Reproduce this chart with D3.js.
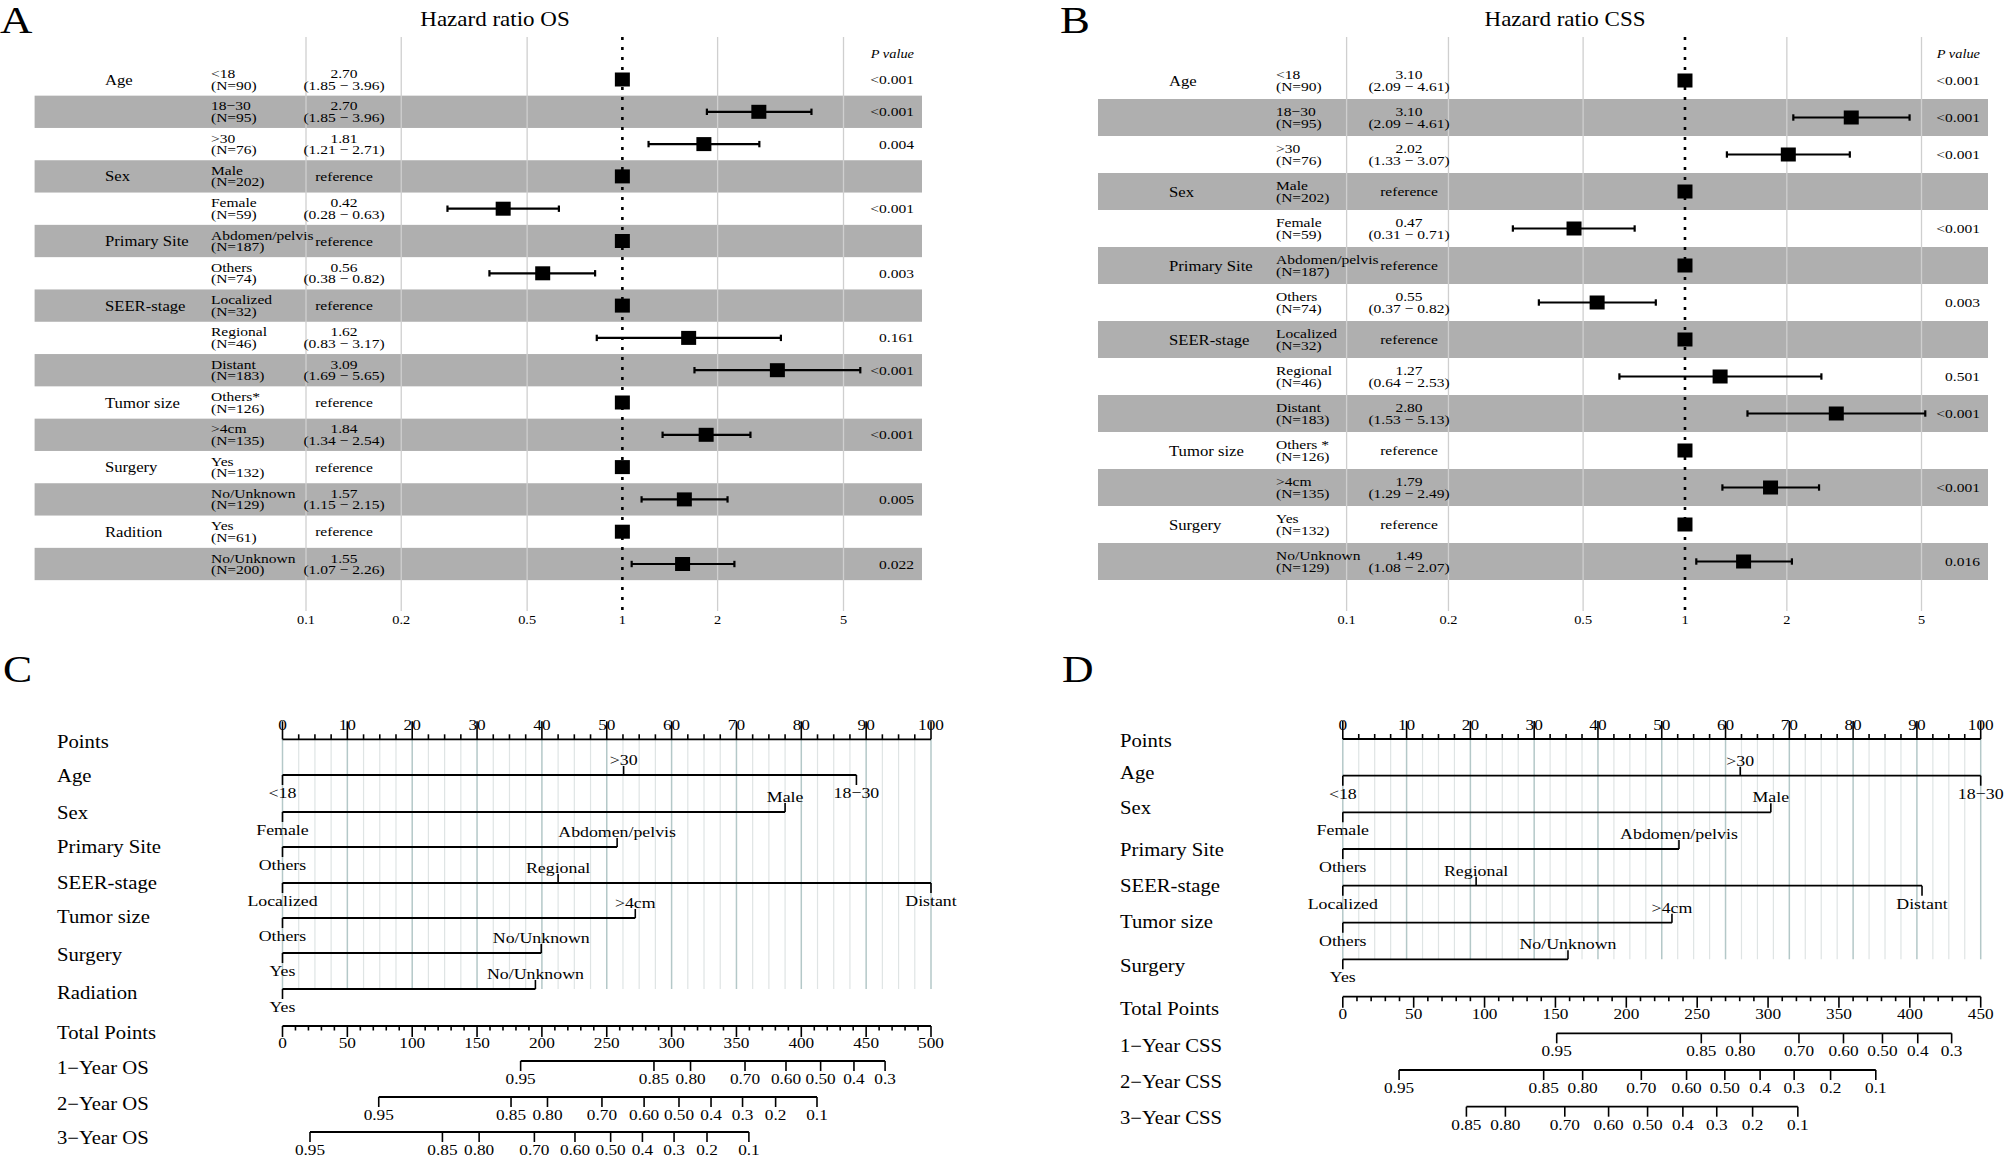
<!DOCTYPE html>
<html lang="en">
<head>
<meta charset="UTF-8">
<title>Hazard ratios and nomograms</title>
<style>
    body { margin: 0; background: #fff; }
    svg { display: block; font-family: "Liberation Serif", "Times New Roman", serif; }
</style>
</head>
<body>
<div id="chart"></div>
<script src="https://d3js.org/d3.v7.min.js"></script>
<script>
// ---------- Forest plot data: overall survival ----------
const osVariable = ["Age", "", "", "Sex", "", "Primary Site", "", "SEER-stage", "", "", "Tumor size", "", "Surgery", "", "Radition", ""];
const osLevel = ["<18", "18−30", ">30", "Male", "Female", "Abdomen/pelvis", "Others", "Localized", "Regional", "Distant", "Others*", ">4cm", "Yes", "No/Unknown", "Yes", "No/Unknown"];
const osN = [90, 95, 76, 202, 59, 187, 74, 32, 46, 183, 126, 135, 132, 129, 61, 200];
const osHR = [2.70, 2.70, 1.81, null, 0.42, null, 0.56, null, 1.62, 3.09, null, 1.84, null, 1.57, null, 1.55];
const osLow = [1.85, 1.85, 1.21, null, 0.28, null, 0.38, null, 0.83, 1.69, null, 1.34, null, 1.15, null, 1.07];
const osHigh = [3.96, 3.96, 2.71, null, 0.63, null, 0.82, null, 3.17, 5.65, null, 2.54, null, 2.15, null, 2.26];
// where the square is plotted (first row is drawn on the reference line)
const osBox = [1, 2.70, 1.81, 1, 0.42, 1, 0.56, 1, 1.62, 3.09, 1, 1.84, 1, 1.57, 1, 1.55];
const osP = ["<0.001", "<0.001", "0.004", "", "<0.001", "", "0.003", "", "0.161", "<0.001", "", "<0.001", "", "0.005", "", "0.022"];

// ---------- Forest plot data: cancer specific survival ----------
const cssVariable = ["Age", "", "", "Sex", "", "Primary Site", "", "SEER-stage", "", "", "Tumor size", "", "Surgery", ""];
const cssLevel = ["<18", "18−30", ">30", "Male", "Female", "Abdomen/pelvis", "Others", "Localized", "Regional", "Distant", "Others *", ">4cm", "Yes", "No/Unknown"];
const cssN = [90, 95, 76, 202, 59, 187, 74, 32, 46, 183, 126, 135, 132, 129];
const cssHR = [3.10, 3.10, 2.02, null, 0.47, null, 0.55, null, 1.27, 2.80, null, 1.79, null, 1.49];
const cssLow = [2.09, 2.09, 1.33, null, 0.31, null, 0.37, null, 0.64, 1.53, null, 1.29, null, 1.08];
const cssHigh = [4.61, 4.61, 3.07, null, 0.71, null, 0.82, null, 2.53, 5.13, null, 2.49, null, 2.07];
const cssBox = [1, 3.10, 2.02, 1, 0.47, 1, 0.55, 1, 1.27, 2.80, 1, 1.79, 1, 1.49];
const cssP = ["<0.001", "<0.001", "<0.001", "", "<0.001", "", "0.003", "", "0.501", "<0.001", "", "<0.001", "", "0.016"];

const hrTicks = [0.1, 0.2, 0.5, 1, 2, 5];

// ---------- Nomogram data: OS ----------
const nomoOSVars = ["Age", "Sex", "Primary Site", "SEER-stage", "Tumor size", "Surgery", "Radiation"];
const nomoOSLevels = [["<18", ">30", "18−30"], ["Female", "Male"], ["Others", "Abdomen/pelvis"], ["Localized", "Regional", "Distant"], ["Others", ">4cm"], ["Yes", "No/Unknown"], ["Yes", "No/Unknown"]];
const nomoOSPoints = [[0, 52.6, 88.5], [0, 77.5], [0, 51.6], [0, 42.5, 100], [0, 54.4], [0, 39.9], [0, 39.0]];
const osSurvNames = ["1−Year OS", "2−Year OS", "3−Year OS"];
const osSurvProbs = [
    ["0.95", "0.85", "0.80", "0.70", "0.60", "0.50", "0.4", "0.3"],
    ["0.95", "0.85", "0.80", "0.70", "0.60", "0.50", "0.4", "0.3", "0.2", "0.1"],
    ["0.95", "0.85", "0.80", "0.70", "0.60", "0.50", "0.4", "0.3", "0.2", "0.1"]
];
const osSurvTotals = [
    [183.6, 286.4, 314.6, 356.6, 388.2, 414.9, 440.6, 464.6],
    [74.2, 176.2, 204.3, 246.3, 278.8, 305.7, 330.4, 354.7, 380.2, 412.1],
    [21.2, 123.3, 151.6, 194.2, 225.5, 253.0, 277.5, 301.9, 327.3, 359.6]
];

// ---------- Nomogram data: CSS ----------
const nomoCSSVars = ["Age", "Sex", "Primary Site", "SEER-stage", "Tumor size", "Surgery"];
const nomoCSSLevels = [["<18", ">30", "18−30"], ["Female", "Male"], ["Others", "Abdomen/pelvis"], ["Localized", "Regional", "Distant"], ["Others", ">4cm"], ["Yes", "No/Unknown"]];
const nomoCSSPoints = [[0, 62.3, 100], [0, 67.1], [0, 52.7], [0, 20.9, 90.8], [0, 51.6], [0, 35.3]];
const cssSurvNames = ["1−Year CSS", "2−Year CSS", "3−Year CSS"];
const cssSurvProbs = [
    ["0.95", "0.85", "0.80", "0.70", "0.60", "0.50", "0.4", "0.3"],
    ["0.95", "0.85", "0.80", "0.70", "0.60", "0.50", "0.4", "0.3", "0.2", "0.1"],
    ["0.85", "0.80", "0.70", "0.60", "0.50", "0.4", "0.3", "0.2", "0.1"]
];
const cssSurvTotals = [
    [150.9, 252.9, 280.4, 321.8, 353.2, 380.7, 405.6, 429.5],
    [39.7, 141.7, 169.2, 210.6, 242.5, 269.5, 294.4, 318.4, 344.1, 376.0],
    [87.2, 114.7, 156.6, 187.5, 215.0, 239.9, 263.8, 289.1, 321.0]
];

// ---------- drawing ----------
const width = 2009, height = 1157;
const SX = 1.15; // the figure's lettering is a little wide

const svg = d3.select("#chart").append("svg")
    .attr("width", width)
    .attr("height", height);
svg.append("rect").attr("width", width).attr("height", height).attr("fill", "#fff");

function label(g, x, y, s, size, anchor) {
    return g.append("text")
        .attr("transform", `translate(${x},${y}) scale(${SX},1)`)
        .attr("text-anchor", anchor || "start")
        .attr("font-size", size)
        .attr("fill", "#000")
        .text(s);
}

function drawForest(cfg, d) {
    const g = svg.append("g");
    const x = d3.scaleLog().domain([0.1, 5]).range([cfg.x0, cfg.x1]);
    const rowY = i => cfg.rowY0 + i * cfg.pitch;
    const rows = d3.range(d.level.length);

    // shaded bands on every other row
    g.selectAll(".band").data(rows.filter(i => i % 2 === 1)).enter()
        .append("rect")
        .attr("x", cfg.bandX0)
        .attr("y", i => rowY(i) - cfg.pitch / 2)
        .attr("width", cfg.bandX1 - cfg.bandX0)
        .attr("height", cfg.pitch)
        .attr("fill", "#afafaf");

    // grid
    g.selectAll(".grid").data(hrTicks.filter(t => t !== 1)).enter()
        .append("line")
        .attr("x1", t => x(t)).attr("x2", t => x(t))
        .attr("y1", 37).attr("y2", 611)
        .attr("stroke", "#cfcfcf")
        .attr("stroke-width", 1.3);
    g.append("line")
        .attr("x1", x(1)).attr("x2", x(1))
        .attr("y1", 37).attr("y2", 614)
        .attr("stroke", "#000")
        .attr("stroke-width", 2.6)
        .attr("stroke-dasharray", "3,7");

    // tick labels
    hrTicks.forEach(t => label(g, x(t), 624, String(t), 12.5, "middle"));

    // confidence intervals
    const ci = rows.filter(i => d.hr[i] !== null && d.box[i] === d.hr[i]);
    g.selectAll(".ci").data(ci).enter()
        .append("line")
        .attr("x1", i => x(d.low[i])).attr("x2", i => x(d.high[i]))
        .attr("y1", rowY).attr("y2", rowY)
        .attr("stroke", "#000").attr("stroke-width", 2.2);
    ["low", "high"].forEach(k => {
        g.selectAll(".cap" + k).data(ci).enter()
            .append("line")
            .attr("x1", i => x(d[k][i])).attr("x2", i => x(d[k][i]))
            .attr("y1", i => rowY(i) - 3.2).attr("y2", i => rowY(i) + 3.2)
            .attr("stroke", "#000").attr("stroke-width", 2.2);
    });

    // squares
    g.selectAll(".box").data(rows).enter()
        .append("rect")
        .attr("x", i => x(d.box[i]) - 7.5)
        .attr("y", i => rowY(i) - 7)
        .attr("width", 15).attr("height", 14)
        .attr("fill", "#000");

    // text columns
    rows.forEach(i => {
        const y = rowY(i);
        if (d.variable[i]) label(g, cfg.varX, y + 5, d.variable[i], 14.5);
        label(g, cfg.levelX, y - 1.5, d.level[i], 13.5);
        label(g, cfg.levelX, y + 10, `(N=${d.n[i]})`, 13.5);
        if (d.hr[i] === null) {
            label(g, cfg.hrX, y + 4.5, "reference", 13.5, "middle");
        } else {
            label(g, cfg.hrX, y - 1.5, d.hr[i].toFixed(2), 13.5, "middle");
            label(g, cfg.hrX, y + 10, `(${d.low[i].toFixed(2)} − ${d.high[i].toFixed(2)})`, 13.5, "middle");
        }
        if (d.p[i]) label(g, cfg.pX, y + 4.5, d.p[i], 13.5, "end");
    });

    label(g, cfg.pX, 58, "P value", 12.5, "end").attr("font-style", "italic");
    label(g, cfg.titleX, 26, cfg.title, 20, "middle");
    label(g, cfg.letterX, 33, cfg.letter, 39);
}

function drawNomogram(cfg, vars, levels, points, survNames, survProbs, survTotals) {
    const g = svg.append("g");
    const px = d3.scaleLinear().domain([0, 100]).range([cfg.x0, cfg.x100]);
    const tx = d3.scaleLinear().domain([0, cfg.totalMax]).range([cfg.x0, cfg.x100]);
    const lastY = cfg.varY[cfg.varY.length - 1];
    const line = (x1, x2, y1, y2, w) => g.append("line")
        .attr("x1", x1).attr("x2", x2).attr("y1", y1).attr("y2", y2)
        .attr("stroke", "#000").attr("stroke-width", w || 1.8);

    // vertical reference grid
    g.selectAll(".grid").data(d3.range(0, 100.01, 2.5)).enter()
        .append("line")
        .attr("x1", v => px(v)).attr("x2", v => px(v))
        .attr("y1", cfg.pointsY).attr("y2", lastY)
        .attr("stroke", v => v % 10 === 0 ? "#b4c8c8" : "#dfe4e4")
        .attr("stroke-width", v => v % 10 === 0 ? 1.5 : 1.2);

    // Points axis
    line(px(0), px(100), cfg.pointsY, cfg.pointsY);
    d3.range(0, 100.01, 2.5).forEach(v => {
        const major = v % 10 === 0;
        line(px(v), px(v), cfg.pointsY, cfg.pointsY - (major ? 18 : 5), 1.6);
        if (major) label(g, px(v), cfg.pointsY - 9.5, String(v), 15, "middle");
    });

    // predictor lines
    vars.forEach((name, k) => {
        const y = cfg.varY[k];
        const pts = points[k];
        line(px(0), px(d3.max(pts)), y, y);
        const order = d3.range(pts.length).sort((a, b) => pts[a] - pts[b]);
        order.forEach((j, r) => {
            const above = r % 2 === 1;
            const xx = px(pts[j]);
            line(xx, xx, y, above ? y - 9 : y + 10, 1.6);
            label(g, xx, above ? y - 10 : y + 23, levels[k][j], 15.5, "middle");
        });
    });

    // Total points axis
    line(tx(0), tx(cfg.totalMax), cfg.totalY, cfg.totalY);
    d3.range(0, cfg.totalMax + 0.01, 10).forEach(v => {
        const major = v % 50 === 0;
        line(tx(v), tx(v), cfg.totalY, cfg.totalY + (major ? 11 : 4.5), 1.6);
        if (major) label(g, tx(v), cfg.totalY + 22, String(v), 15, "middle");
    });

    // survival probability axes
    survTotals.forEach((vals, k) => {
        const y = cfg.survY[k];
        line(tx(d3.min(vals)), tx(d3.max(vals)), y, y);
        vals.forEach((v, j) => {
            line(tx(v), tx(v), y, y + 10, 1.6);
            label(g, tx(v), y + 23, survProbs[k][j], 15, "middle");
        });
    });

    // row names
    const names = ["Points"].concat(vars, ["Total Points"], survNames);
    names.forEach((s, i) => label(g, cfg.labelX, cfg.labelY[i] + 6, s, 18));

    label(g, cfg.letterX, 682, cfg.letter, 38);
}

drawForest({
    x0: 306, x1: 843.5, rowY0: 79.5, pitch: 32.3,
    bandX0: 34.6, bandX1: 922, varX: 105, levelX: 211, hrX: 344, pX: 914,
    title: "Hazard ratio OS", titleX: 495, letter: "A", letterX: 0
}, { variable: osVariable, level: osLevel, n: osN, hr: osHR, low: osLow, high: osHigh, box: osBox, p: osP });

drawForest({
    x0: 1346.6, x1: 1921.5, rowY0: 80.5, pitch: 37,
    bandX0: 1098, bandX1: 1988, varX: 1169, levelX: 1276, hrX: 1409, pX: 1980,
    title: "Hazard ratio CSS", titleX: 1565, letter: "B", letterX: 1060
}, { variable: cssVariable, level: cssLevel, n: cssN, hr: cssHR, low: cssLow, high: cssHigh, box: cssBox, p: cssP });

drawNomogram({
    x0: 282.5, x100: 931, totalMax: 500, labelX: 57,
    pointsY: 739.3, varY: [775, 812, 847, 883, 918, 953, 989], totalY: 1026, survY: [1061, 1097, 1132],
    labelY: [742, 776, 813, 847, 883, 917, 955, 993, 1033, 1068, 1104, 1138],
    letter: "C", letterX: 3
}, nomoOSVars, nomoOSLevels, nomoOSPoints, osSurvNames, osSurvProbs, osSurvTotals);

drawNomogram({
    x0: 1342.8, x100: 1980.7, totalMax: 450, labelX: 1120,
    pointsY: 739, varY: [775.7, 812.3, 849, 885.7, 922.7, 959.3], totalY: 996.7, survY: [1033.3, 1070, 1106.7],
    labelY: [740.7, 772.7, 808, 850, 886, 922, 965.7, 1009, 1045.7, 1081.7, 1118],
    letter: "D", letterX: 1062
}, nomoCSSVars, nomoCSSLevels, nomoCSSPoints, cssSurvNames, cssSurvProbs, cssSurvTotals);
</script>
</body>
</html>
